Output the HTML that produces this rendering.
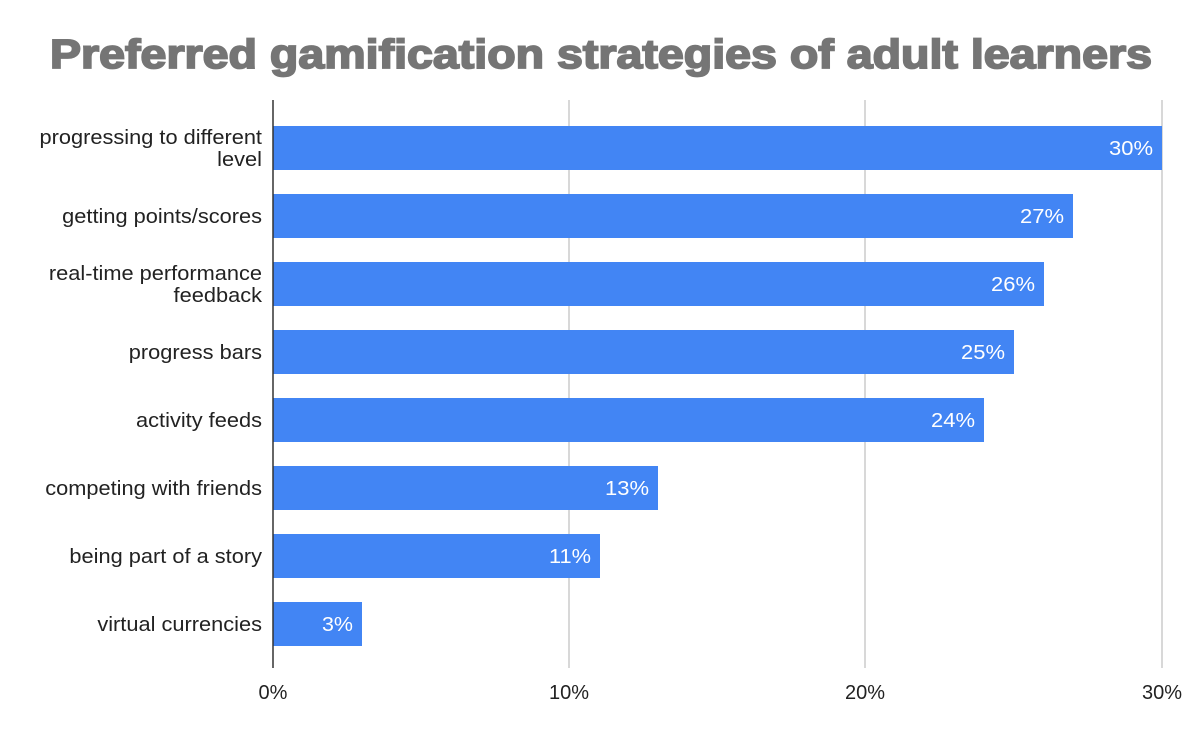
<!DOCTYPE html>
<html><head><meta charset="utf-8"><style>body{margin:0;background:#fff}</style></head>
<body>
<svg width="1200" height="742" xmlns="http://www.w3.org/2000/svg" font-family="Liberation Sans, Arial, sans-serif">
<rect width="1200" height="742" fill="#fff"/>
<text x="601" y="68" text-anchor="middle" font-size="41" font-weight="bold" fill="#757575" textLength="1102" lengthAdjust="spacingAndGlyphs" stroke="#757575" stroke-width="1.8">Preferred gamification strategies of adult learners</text>
<g stroke="#cccccc" stroke-width="1.5">
<line x1="569" y1="100" x2="569" y2="668"/>
<line x1="865" y1="100" x2="865" y2="668"/>
<line x1="1162" y1="100" x2="1162" y2="668"/>
</g>
<g fill="#4285f4">
<rect x="273" y="126" width="889" height="44"/>
<rect x="273" y="194" width="800" height="44"/>
<rect x="273" y="262" width="771" height="44"/>
<rect x="273" y="330" width="741" height="44"/>
<rect x="273" y="398" width="711" height="44"/>
<rect x="273" y="466" width="385" height="44"/>
<rect x="273" y="534" width="327" height="44"/>
<rect x="273" y="602" width="89" height="44"/>
</g>
<line x1="273" y1="100" x2="273" y2="668" stroke="#333" stroke-width="1.5"/>
<g fill="#fff" font-size="20" text-anchor="end">
<text x="1153" y="155" textLength="44" lengthAdjust="spacingAndGlyphs">30%</text>
<text x="1064" y="223" textLength="44" lengthAdjust="spacingAndGlyphs">27%</text>
<text x="1035" y="291" textLength="44" lengthAdjust="spacingAndGlyphs">26%</text>
<text x="1005" y="359" textLength="44" lengthAdjust="spacingAndGlyphs">25%</text>
<text x="975" y="427" textLength="44" lengthAdjust="spacingAndGlyphs">24%</text>
<text x="649" y="495" textLength="44" lengthAdjust="spacingAndGlyphs">13%</text>
<text x="591" y="563" textLength="42" lengthAdjust="spacingAndGlyphs">11%</text>
<text x="353" y="631" textLength="31" lengthAdjust="spacingAndGlyphs">3%</text>
</g>
<g fill="#222" font-size="20" text-anchor="end" transform="translate(262,0) scale(1.09,1) translate(-262,0)">
<text x="262" y="144">progressing to different</text>
<text x="262" y="166">level</text>
<text x="262" y="223">getting points/scores</text>
<text x="262" y="280">real-time performance</text>
<text x="262" y="302">feedback</text>
<text x="262" y="359">progress bars</text>
<text x="262" y="427">activity feeds</text>
<text x="262" y="495">competing with friends</text>
<text x="262" y="563">being part of a story</text>
<text x="262" y="631">virtual currencies</text>
</g>
<g fill="#222" font-size="20" text-anchor="middle">
<text x="273" y="699">0%</text>
<text x="569" y="699">10%</text>
<text x="865" y="699">20%</text>
<text x="1162" y="699">30%</text>
</g>
</svg>
</body></html>
